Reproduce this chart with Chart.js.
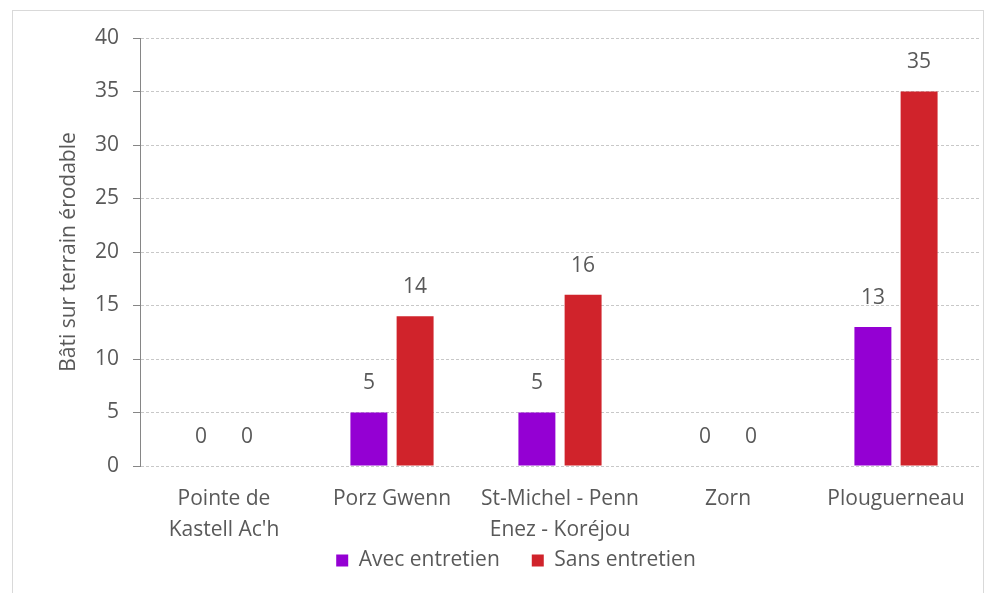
<!DOCTYPE html>
<html>
<head>
<meta charset="utf-8">
<script src="https://cdn.jsdelivr.net/npm/chart.js@4.4.1/dist/chart.umd.min.js"></script>
<style>
    html, body { margin: 0; padding: 0; background: #ffffff; }
    #wrap { position: relative; width: 989px; height: 593px; }
    #frame { position: absolute; left: 12px; top: 10px; width: 972px; height: 590px; border: 1px solid #d9d9d9; box-sizing: border-box; }
    canvas { position: absolute; left: 0; top: 0; }
</style>
</head>
<body>
<div id="wrap">
    <div id="frame"></div>
    <canvas id="erosionChart" width="989" height="593"></canvas>
</div>
<script>
// Chart data
const categories = [
    ['Pointe de', "Kastell Ac'h"],
    'Porz Gwenn',
    ['St-Michel - Penn', 'Enez - Koréjou'],
    'Zorn',
    'Plouguerneau'
];
const avecEntretien = [0, 5, 5, 0, 13];
const sansEntretien = [0, 14, 16, 0, 35];
const yTicks = [0, 5, 10, 15, 20, 25, 30, 35, 40];

const textColor = '#595959';
const fontFamily = '"Open Sans", sans-serif';
const fontSize = 21;

// Draw value labels above each bar
const valueLabels = {
    id: 'valueLabels',
    afterDatasetsDraw(chart) {
        const ctx = chart.ctx;
        ctx.save();
        ctx.fillStyle = textColor;
        ctx.font = fontSize + 'px ' + fontFamily;
        ctx.textAlign = 'center';
        ctx.textBaseline = 'middle';
        chart.data.datasets.forEach((ds, i) => {
            chart.getDatasetMeta(i).data.forEach((bar, j) => {
                ctx.fillText(String(ds.data[j]), bar.x, bar.y - 29);
            });
        });
        ctx.restore();
    }
};

// Pull the legend up so it sits just under the category labels
const legendLift = {
    id: 'legendLift',
    afterLayout(chart) {
        if (chart.legend) {
            chart.legend.top -= 25;
            chart.legend.bottom -= 25;
        }
    }
};

new Chart(document.getElementById('erosionChart'), {
    type: 'bar',
    data: {
        labels: categories,
        datasets: [
            {
                label: 'Avec entretien',
                data: avecEntretien,
                backgroundColor: '#9400d3',
                categoryPercentage: 0.55,
                barPercentage: 0.8
            },
            {
                label: 'Sans entretien',
                data: sansEntretien,
                backgroundColor: '#d0232b',
                categoryPercentage: 0.55,
                barPercentage: 0.8
            }
        ]
    },
    options: {
        responsive: false,
        animation: false,
        layout: {
            padding: { left: 52, right: 9, top: 38, bottom: -13 }
        },
        plugins: {
            legend: {
                position: 'bottom',
                labels: {
                    color: textColor,
                    boxWidth: 12,
                    boxHeight: 12,
                    padding: 32,
                    font: { family: fontFamily, size: fontSize }
                }
            },
            tooltip: { enabled: false }
        },
        scales: {
            x: {
                afterFit(scale) {
                    scale.height = 77;
                },
                grid: { display: false, drawTicks: false },
                border: { display: false },
                ticks: {
                    color: textColor,
                    padding: 17,
                    maxRotation: 0,
                    autoSkip: false,
                    font: { family: fontFamily, size: fontSize, lineHeight: 1.48 }
                }
            },
            y: {
                min: 0,
                max: 40,
                afterBuildTicks(scale) {
                    scale.ticks = yTicks.map(v => ({ value: v }));
                },
                afterFit(scale) {
                    scale.width = 88;
                },
                grid: {
                    color: '#c8c8c8',
                    tickColor: '#868686',
                    tickLength: 7
                },
                border: {
                    display: true,
                    color: '#868686',
                    dash: [3, 2]
                },
                ticks: {
                    color: textColor,
                    padding: 14,
                    font: { family: fontFamily, size: fontSize }
                },
                title: {
                    display: true,
                    text: 'Bâti sur terrain érodable',
                    color: textColor,
                    font: { family: fontFamily, size: fontSize }
                }
            }
        }
    },
    plugins: [valueLabels, legendLift]
});
</script>
</body>
</html>
